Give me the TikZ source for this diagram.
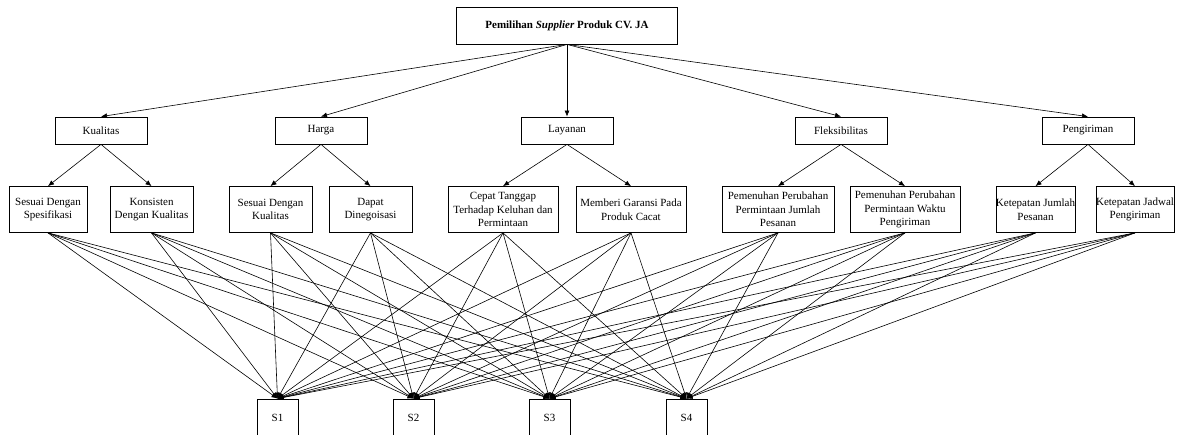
\documentclass[tikz,border=0pt]{standalone}
\usepackage{fontspec}
\setmainfont{Liberation Serif}
\usetikzlibrary{arrows.meta}
\tikzset{
    box/.style={draw, line width=0.8pt, inner sep=0pt, align=center, font=\fontsize{11}{13.5}\selectfont},
    crit/.style={box, minimum width=92pt, minimum height=27pt},
    sub/.style={box, minimum height=46pt},
    alt/.style={box, minimum width=41pt, minimum height=38pt},
    link/.style={-{Latex[length=6pt,width=5pt]}, line width=0.6pt},
}
\begin{document}
\begin{tikzpicture}[x=1pt,y=-1pt]
    \clip (0,0) rectangle (1178,435);

    \node[box, minimum width=221pt, minimum height=37pt] (goal) at (567,25.5) {\bfseries Pemilihan \textit{Supplier} Produk CV. JA};

    \node[crit] (K) at (101,130.5) {Kualitas};
    \node[crit] (H) at (321,130.5) {Harga};
    \node[crit] (L) at (567,130.5) {Layanan};
    \node[crit] (F) at (841,130.5) {Fleksibilitas};
    \node[crit] (P) at (1088,130.5) {Pengiriman};

    \node[sub, minimum width=78pt] (K1) at (48,209.5) {Sesuai Dengan\\Spesifikasi};
    \node[sub, minimum width=83pt] (K2) at (151.5,209.5) {Konsisten\\Dengan Kualitas};
    \node[sub, minimum width=83pt] (H1) at (270.5,209.5) {Sesuai Dengan\\Kualitas};
    \node[sub, minimum width=83pt] (H2) at (370.5,209.5) {Dapat\\Dinegoisasi};
    \node[sub, minimum width=110pt] (L1) at (503,209.5) {Cepat Tanggap\\Terhadap Keluhan dan\\Permintaan};
    \node[sub, minimum width=110pt] (L2) at (631,209.5) {Memberi Garansi Pada\\Produk Cacat};
    \node[sub, minimum width=112pt] (F1) at (778,209.5) {Pemenuhan Perubahan\\Permintaan Jumlah\\Pesanan};
    \node[sub, minimum width=110pt] (F2) at (905,209.5) {Pemenuhan Perubahan\\Permintaan Waktu\\Pengiriman};
    \node[sub, minimum width=79pt] (P1) at (1035.5,209.5) {Ketepatan Jumlah\\Pesanan};
    \node[sub, minimum width=78pt] (P2) at (1135,209.5) {Ketepatan Jadwal\\Pengiriman};

    \node[alt] (S1) at (277.5,418) {S1};
    \node[alt] (S2) at (413.5,418) {S2};
    \node[alt] (S3) at (549.5,418) {S3};
    \node[alt] (S4) at (686.5,418) {S4};

    % goal to criteria
    \foreach \c in {K,H,L,F,P}
        \draw[link] (goal.south) -- (\c.north);

    % criteria to subcriteria
    \foreach \c/\s in {K/K1,K/K2,H/H1,H/H2,L/L1,L/L2,F/F1,F/F2,P/P1,P/P2}
        \draw[link] (\c.south) -- (\s.north);

    % subcriteria to alternatives
    \foreach \s in {K1,K2,H1,H2,L1,L2,F1,F2,P1,P2}
        \foreach \a in {S1,S2,S3,S4}
            \draw[link] (\s.south) -- (\a.north);
\end{tikzpicture}
\end{document}
